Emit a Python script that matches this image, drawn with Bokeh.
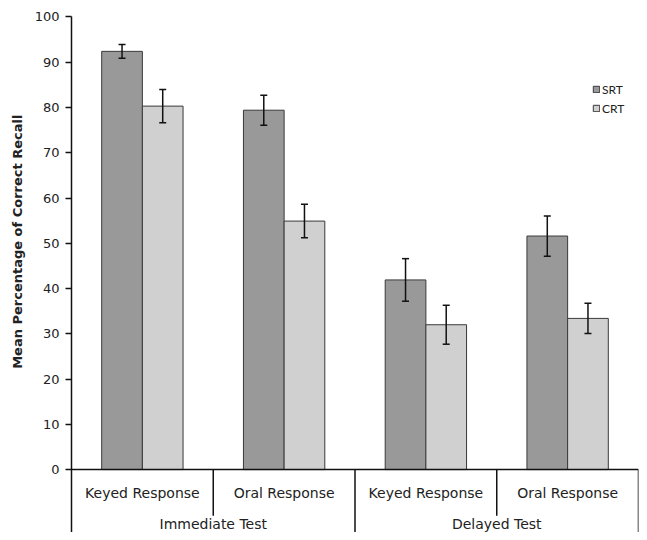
from bokeh.plotting import figure
from bokeh.models import (ColumnDataSource, FactorRange, Range1d, FixedTicker,
                          Whisker, TeeHead, Span, Title)
from bokeh.transform import dodge
from bokeh.core.properties import value
from bokeh.embed import file_html
from bokeh.resources import INLINE

# ---- data ----
tests = ["Immediate Test", "Immediate Test", "Delayed Test", "Delayed Test"]
responses = ["Keyed Response", "Oral Response", "Keyed Response", "Oral Response"]
test_groups = ["Immediate Test", "Delayed Test"]
series = ["SRT", "CRT"]
srt = [92.4, 79.4, 41.9, 51.6]
crt = [80.3, 54.9, 32.0, 33.4]
srt_err = [1.5, 3.3, 4.7, 4.45]
crt_err = [3.65, 3.7, 4.3, 3.35]
y_ticks = [0, 10, 20, 30, 40, 50, 60, 70, 80, 90, 100]
y_title = "Mean Percentage of Correct Recall"

FONT = "DejaVu Sans"
TXT = "#222222"

factors = list(zip(tests, responses))
src = ColumnDataSource(dict(
    x=factors,
    srt=srt, crt=crt,
    srt_up=[v + e for v, e in zip(srt, srt_err)],
    srt_lo=[v - e for v, e in zip(srt, srt_err)],
    crt_up=[v + e for v, e in zip(crt, crt_err)],
    crt_lo=[v - e for v, e in zip(crt, crt_err)],
))

xr = FactorRange(*factors, factor_padding=0, group_padding=0, range_padding=0,
                 subgroup_padding=0)
p = figure(width=639, height=532, x_range=xr, y_range=Range1d(-13.9, 100.1),
           output_backend="svg", toolbar_location=None,
           min_border_left=71, min_border_right=1, min_border_top=16,
           min_border_bottom=0)
p.outline_line_color = None
p.grid.visible = False
p.xaxis.visible = False

W = 0.287
D = 0.1435
r1 = p.vbar(x=dodge("x", -D, range=p.x_range), top="srt", width=W, bottom=0,
            source=src, fill_color="#999999", line_color="#3a3a3a",
            line_width=1, legend_label=series[0])
r2 = p.vbar(x=dodge("x", D, range=p.x_range), top="crt", width=W, bottom=0,
            source=src, fill_color="#d0d0d0", line_color="#3a3a3a",
            line_width=1, legend_label=series[1])

for off, up, lo in [(-D, "srt_up", "srt_lo"), (D, "crt_up", "crt_lo")]:
    w = Whisker(source=src, base=dodge("x", off, range=p.x_range),
                upper=up, lower=lo, dimension="height", level="overlay",
                line_color="#111111", line_width=1.5,
                upper_head=TeeHead(size=7, line_color="#111111", line_width=1.5),
                lower_head=TeeHead(size=7, line_color="#111111", line_width=1.5))
    p.add_layout(w)

# y axis
ya = p.yaxis[0]
ya.ticker = FixedTicker(ticks=y_ticks)
ya.minor_tick_line_color = None
ya.major_tick_in = 0
ya.major_tick_out = 6
ya.major_tick_line_width = 1.5
ya.axis_line_width = 1.5
ya.axis_line_color = "#111111"
ya.major_tick_line_color = "#111111"
ya.major_label_text_font = FONT
ya.major_label_text_font_size = "13px"
ya.major_label_text_color = TXT
ya.major_label_standoff = 6

p.add_layout(Title(text=y_title, align="right", offset=98, standoff=14,
                   text_font=FONT, text_font_style="bold", text_font_size="13px",
                   text_color=TXT), "left")

# category axis line
p.add_layout(Span(location=0, dimension="width", line_color="#111111",
                  line_width=1.5))

# separators
p.segment(x0=dodge("x", -0.5, range=p.x_range), x1=dodge("x", -0.5, range=p.x_range),
          y0=0, y1=-10.2,
          source=ColumnDataSource(dict(x=[("Immediate Test", "Oral Response"),
                                          ("Delayed Test", "Oral Response")])),
          line_color="#111111", line_width=1.5)
p.segment(x0=dodge("x", -0.5, range=p.x_range), x1=dodge("x", -0.5, range=p.x_range),
          y0=0, y1=-14,
          source=ColumnDataSource(dict(x=[("Delayed Test", "Keyed Response")])),
          line_color="#111111", line_width=1.5)
p.segment(x0=dodge("x", 0.5, range=p.x_range), x1=dodge("x", 0.5, range=p.x_range),
          y0=0, y1=-14,
          source=ColumnDataSource(dict(x=[("Delayed Test", "Oral Response")])),
          line_color="#111111", line_width=1.5)

# category labels
p.text(x="x", y=-5.1, text="r", source=ColumnDataSource(dict(x=factors, r=responses)),
       text_align="center", text_baseline="middle", text_font=value(FONT),
       text_font_size="14px", text_color=TXT)
p.text(x="x", y=-12.0, text="t", source=ColumnDataSource(dict(x=test_groups, t=test_groups)),
       text_align="center", text_baseline="middle", text_font=value(FONT),
       text_font_size="14px", text_color=TXT)

# legend
lg = p.legend[0]
lg.location = (521, 416)
lg.border_line_color = None
lg.background_fill_alpha = 0
lg.padding = 0
lg.margin = 0
lg.spacing = 3
lg.glyph_width = 8
lg.glyph_height = 8
lg.label_height = 16
lg.label_standoff = 2
lg.label_text_font = "Lato"
lg.label_text_font_size = "12px"
lg.label_text_color = TXT

open("out.html", "w").write(file_html(p, INLINE))
